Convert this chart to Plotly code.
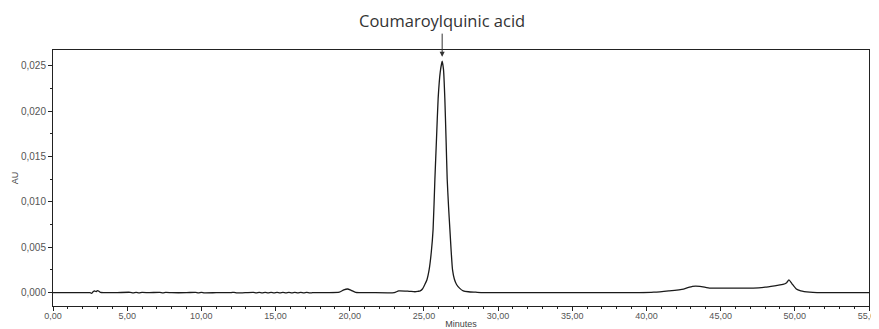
import plotly.graph_objects as go

# Retention time (minutes)
time_min = [0.0, 1.0, 2.0, 2.5, 2.6, 2.7, 2.8, 2.9, 3.0, 3.1, 3.2, 3.4, 4.0,
            5.2, 5.4, 5.6, 5.8, 6.0, 6.5, 7.2, 7.4, 7.6, 8.0, 9.0, 9.6, 9.8, 10.0, 10.2,
            11.0, 12.0, 12.2, 12.4, 13.5, 13.7, 13.9, 14.1, 14.3, 14.5, 14.7, 14.9,
            15.1, 15.3, 15.5, 15.7, 15.9, 16.1, 16.3, 16.5, 16.7, 16.9, 17.1, 17.3,
            17.5, 18.5, 19.3, 19.6, 19.85, 20.1, 20.4, 21.5, 23.0, 23.3, 24.0, 24.4,
            24.6, 24.75, 24.9, 25.06, 25.2, 25.35, 25.5, 25.62, 25.74, 25.85, 25.96,
            26.1, 26.23, 26.32, 26.41, 26.5, 26.57, 26.66, 26.75, 26.84, 26.93, 27.05,
            27.2, 27.4, 27.65, 28.0, 28.5, 29.0, 32.0, 36.0, 39.5, 40.5, 41.5, 42.5,
            43.1, 43.6, 44.3, 45.5, 47.2, 48.0, 48.8, 49.2, 49.45, 49.6, 49.8, 50.1,
            50.4, 51.0, 51.5, 53.0, 55.0]

# Absorbance (AU)
absorbance = [0.0, 0.0, 0.0, 0.0, -0.00008, 0.0001, 0.0002, 0.00012, 0.00022, 0.00015, 0.00003, 0.0, 0.0,
              0.00004, -0.00003, 0.00004, -0.00003, 0.00003, 0.0, 0.00004, -0.00003, 0.00003, 0.0, 0.0,
              0.00004, -0.00003, 0.00004, -0.00002, 0.0, 0.0, 0.00004, -0.00003, 0.00004, -0.00003,
              0.00004, -0.00003, 0.00004, -0.00003, 0.00004, -0.00003, 0.00004, -0.00003, 0.00004,
              -0.00003, 0.00004, -0.00003, 0.00004, -0.00003, 0.00004, -0.00003, 0.00004, -0.00003,
              0.0, 0.0, 0.00005, 0.0003, 0.0004, 0.00025, 0.00003, 0.0, 0.0, 0.0002, 0.00015, 0.0001,
              0.00015, 0.0002, 0.0004, 0.0009, 0.0014, 0.0025, 0.0045, 0.0070, 0.0125, 0.0170, 0.0214,
              0.0243, 0.0255, 0.0246, 0.0214, 0.0165, 0.0125, 0.0095, 0.0070, 0.0045, 0.0025, 0.0015,
              0.0009, 0.0005, 0.0002, 0.0001, 0.00005, 0.0, 0.0, 0.0, 0.0, 0.00005, 0.0002, 0.0004,
              0.0007, 0.0007, 0.0005, 0.0005, 0.0005, 0.0006, 0.0008, 0.0009, 0.0011, 0.0014, 0.0010,
              0.0004, 0.0002, 0.00005, 0.0, 0.0, 0.0]

peak_label = "Coumaroylquinic acid"
peak_time = 26.23
peak_au = 0.0260

fig = go.Figure()
fig.add_trace(go.Scatter(
    x=time_min, y=absorbance, mode="lines",
    line=dict(color="#1a1a1a", width=1.3, shape="spline", smoothing=0.5),
    hoverinfo="skip", showlegend=False,
))

fig.add_annotation(
    x=peak_time, y=peak_au, xref="x", yref="y",
    text=peak_label, showarrow=True, ax=0, ay=-36,
    arrowhead=2, arrowsize=1, arrowwidth=1, arrowcolor="#333333",
    font=dict(family="Open Sans", size=16.5, color="#333333"),
)

xfont = dict(family="Liberation Sans", size=9, color="#555555")
yfont = dict(family="Liberation Sans", size=10, color="#555555")
fig.update_layout(
    width=871, height=321,
    margin=dict(l=45, r=10, t=42, b=23, autoexpand=False),
    paper_bgcolor="white", plot_bgcolor="white",
    separators=",.",
    xaxis=dict(
        range=[0, 55], dtick=5, tick0=0, tickformat=".2f", automargin=False,
        showgrid=False, zeroline=False, ticklabeloverflow="allow", ticklabelstandoff=-3,
        showline=True, linecolor="#222222", linewidth=1, mirror=True,
        ticks="outside", ticklen=4, tickcolor="#222222", tickfont=xfont,
        minor=dict(dtick=1, ticks="outside", ticklen=2, tickcolor="#222222"),
        title=dict(text="Minutes", font=dict(family="Liberation Sans", size=9, color="#444444"), standoff=9),
    ),
    yaxis=dict(
        range=[-0.00147, 0.02673], dtick=0.005, tick0=0, tickformat=".3f", automargin=False,
        showgrid=False, zeroline=False,
        showline=True, linecolor="#222222", linewidth=1, mirror=True,
        ticks="outside", ticklen=4, tickcolor="#222222", tickfont=yfont,
        minor=dict(dtick=0.0025, ticks="outside", ticklen=2, tickcolor="#222222"),
        title=dict(text="AU", font=dict(family="Liberation Sans", size=9, color="#444444"), standoff=0),
    ),
)

fig.write_html("out.html")
